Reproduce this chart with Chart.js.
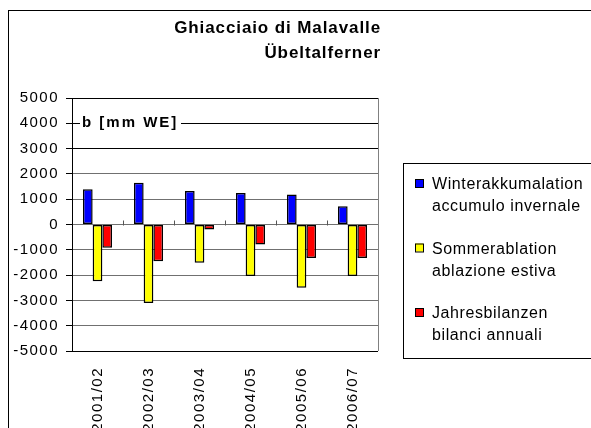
<!DOCTYPE html>
<html>
<head>
<meta charset="utf-8">
<script src="https://cdn.jsdelivr.net/npm/chart.js@4.4.0/dist/chart.umd.min.js"></script>
<style>
html, body { margin: 0; padding: 0; background: #fff; }
#wrap { position: relative; width: 591px; height: 428px; }
</style>
</head>
<body>
<div id="wrap"><canvas id="chart" width="591" height="428"></canvas></div>
<script>
const seasons = ['2001/02', '2002/03', '2003/04', '2004/05', '2005/06', '2006/07'];
const winterAccumulation = [1390, 1650, 1320, 1250, 1190, 720];
const summerAblation = [-2240, -3100, -1510, -2040, -2500, -2040];
const annualBalance = [-920, -1450, -200, -790, -1320, -1320];

const seriesLabels = [
    ['Winterakkumalation', 'accumulo invernale'],
    ['Sommerablation', 'ablazione estiva'],
    ['Jahresbilanzen', 'bilanci annuali'],
];
const seriesColors = ['#0000ff', '#ffff00', '#ff0000'];
const titleLines = ['Ghiacciaio di Malavalle', 'Übeltalferner'];
const unitLabel = 'b [mm WE]';
const yMin = -5000;
const yMax = 5000;
const yStep = 1000;
const darkGridValues = [5000, 4000, 3000, -5000];

const FONT = "'Liberation Sans', Arial, sans-serif";

const decorations = {
    id: 'decorations',
    beforeDraw(chart) {
        chart.ctx.letterSpacing = '1.5px';
    },
    afterDraw(chart) {
        const ctx = chart.ctx;
        const area = chart.chartArea;
        const x = chart.scales.x;
        const y = chart.scales.y;
        const zeroY = Math.round(y.getPixelForValue(0)) + 0.5;

        ctx.save();
        ctx.letterSpacing = '0px';

        // small category ticks on the zero line
        ctx.strokeStyle = '#555';
        ctx.lineWidth = 1;
        for (let i = 1; i < seasons.length; i++) {
            const px = Math.round(x.getPixelForValue(i - 0.5)) + 0.5;
            ctx.beginPath();
            ctx.moveTo(px, zeroY - 5);
            ctx.lineTo(px, zeroY);
            ctx.stroke();
        }

        // right edge of plot area
        ctx.strokeStyle = '#808080';
        ctx.beginPath();
        ctx.moveTo(Math.round(area.right) + 0.5, area.top);
        ctx.lineTo(Math.round(area.right) + 0.5, area.bottom);
        ctx.stroke();

        // unit label over the 4000 line
        ctx.fillStyle = '#fff';
        ctx.fillRect(80, 113, 101, 20);
        ctx.fillStyle = '#000';
        ctx.font = 'bold 15px ' + FONT;
        ctx.letterSpacing = '2px';
        ctx.textAlign = 'left';
        ctx.textBaseline = 'alphabetic';
        ctx.fillText(unitLabel, 82, 127);

        // title
        ctx.font = 'bold 17px ' + FONT;
        ctx.letterSpacing = '0.9px';
        ctx.textAlign = 'right';
        ctx.fillText(titleLines[0], 381, 33);
        ctx.fillText(titleLines[1], 381, 58);

        // legend
        ctx.strokeStyle = '#000';
        ctx.strokeRect(403.5, 163.5, 260, 195);
        ctx.font = '16px ' + FONT;
        ctx.letterSpacing = '0.6px';
        ctx.textAlign = 'left';
        seriesLabels.forEach((lines, i) => {
            const base = 189 + i * 64.5;
            ctx.fillStyle = seriesColors[i];
            ctx.fillRect(415, base - 10, 8, 8);
            ctx.strokeStyle = '#000';
            ctx.strokeRect(415.5, base - 9.5, 8, 8);
            ctx.fillStyle = '#000';
            lines.forEach((line, j) => {
                ctx.fillText(line, 432, base + j * 22);
            });
        });

        // outer chart border
        ctx.strokeRect(8.5, 10.5, 640, 500);
        ctx.restore();
    },
};

new Chart(document.getElementById('chart'), {
    type: 'bar',
    data: {
        labels: seasons,
        datasets: [
            { label: seriesLabels[0].join(' '), data: winterAccumulation, backgroundColor: seriesColors[0] },
            { label: seriesLabels[1].join(' '), data: summerAblation, backgroundColor: seriesColors[1] },
            { label: seriesLabels[2].join(' '), data: annualBalance, backgroundColor: seriesColors[2] },
        ],
    },
    options: {
        responsive: false,
        animation: false,
        devicePixelRatio: 1,
        layout: { padding: { left: 0, right: 213, top: 98, bottom: 0 } },
        datasets: {
            bar: {
                borderColor: '#000',
                borderWidth: 1.5,
                borderSkipped: false,
                categoryPercentage: 0.57,
                barPercentage: 1.0,
            },
        },
        plugins: {
            legend: { display: false },
            title: { display: false },
            tooltip: { enabled: false },
        },
        scales: {
            x: {
                grid: { display: false },
                border: { display: false },
                ticks: {
                    color: '#000',
                    font: { family: FONT, size: 15 },
                    minRotation: 90,
                    maxRotation: 90,
                    padding: 8,
                },
                afterFit(scale) { scale.height = 77; },
            },
            y: {
                min: yMin,
                max: yMax,
                grid: {
                    color: (c) => (darkGridValues.includes(c.tick.value) ? '#000' : '#707070'),
                    tickColor: '#000',
                    tickLength: 6,
                },
                border: { display: true, color: '#000', width: 1 },
                ticks: {
                    stepSize: yStep,
                    color: '#000',
                    font: { family: FONT, size: 15 },
                    padding: 7,
                    callback: (v) => String(v),
                },
                afterFit(scale) { scale.width = 72; },
            },
        },
    },
    plugins: [decorations],
});
</script>
</body>
</html>
